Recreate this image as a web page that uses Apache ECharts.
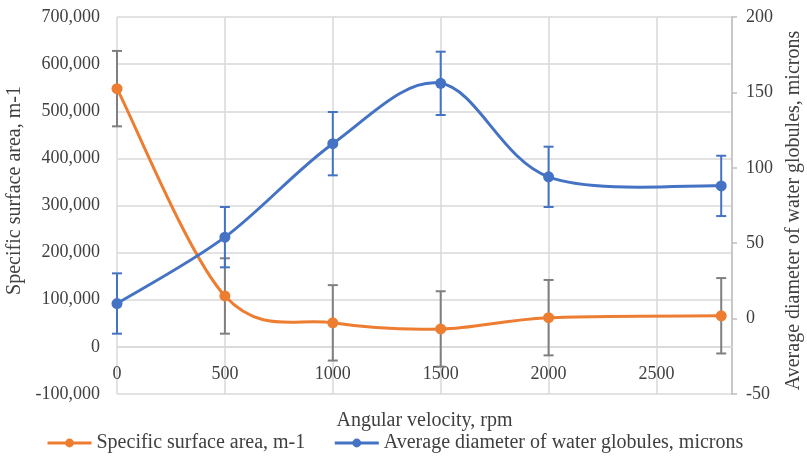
<!DOCTYPE html>
<html>
<head>
<meta charset="utf-8">
<script src="https://cdn.jsdelivr.net/npm/echarts@6/dist/echarts.min.js"></script>
<style>
  html, body { margin: 0; padding: 0; background: #fff; }
  #chart { width: 807px; height: 456px; }
</style>
</head>
<body>
<div id="chart"></div>
<script>
// Angular velocity (rpm)
const rpm = [0, 500, 1000, 1500, 2000, 2800];
// Specific surface area, m-1 (left axis) and its error half-width
const surfaceArea = [548000, 108000, 51000, 38000, 62000, 66000];
const surfaceErr = [80000, 80000, 80000, 80000, 80000, 80000];
// Average diameter of water globules, microns (right axis) and its error half-width
const diameter = [10, 54, 116, 156, 94, 88];
const diameterErr = [20, 20, 21, 21, 20, 20];
// Axis tick settings
const leftTicks = { min: -100000, max: 700000, step: 100000 };
const rightTicks = { min: -50, max: 200, step: 50 };
const xTicks = { min: 0, max: 2850, step: 500 };

const SURFACE_NAME = 'Specific surface area, m-1';
const DIAMETER_NAME = 'Average diameter of water globules, microns';

const FONT = 'Liberation Serif';
const TEXT = '#404040';
const GRID = '#d9d9d9';
const ORANGE = '#ED7D31';
const BLUE = '#4472C4';
const ERR_GREY = '#7f7f7f';

// Plot rectangle
const PLOT = { left: 117, right: 75, top: 17, bottom: 62, height: 456 - 17 - 62 };
// The horizontal axis crosses the left axis at zero: shift it up from the bottom edge
const zeroShift = PLOT.height * (0 - leftTicks.min) / (leftTicks.max - leftTicks.min);

// Vertical error bars with short caps
function errorBars(color) {
  return function (params, api) {
    const x = api.value(0), y = api.value(1), e = api.value(2);
    const hi = api.coord([x, y + e]);
    const lo = api.coord([x, y - e]);
    const w = 5;
    const st = { stroke: color, lineWidth: 2 };
    return {
      type: 'group',
      children: [
        { type: 'line', shape: { x1: hi[0], y1: hi[1], x2: lo[0], y2: lo[1] }, style: st },
        { type: 'line', shape: { x1: hi[0] - w, y1: hi[1], x2: hi[0] + w, y2: hi[1] }, style: st },
        { type: 'line', shape: { x1: lo[0] - w, y1: lo[1], x2: lo[0] + w, y2: lo[1] }, style: st }
      ]
    };
  };
}

// Smoothed curve through the points (Catmull-Rom style cubic Bezier segments)
function smoothCurve(xs, ys, color) {
  return function (params, api) {
    if (params.dataIndex !== 0) return null;
    const pts = xs.map((x, i) => api.coord([x, ys[i]]));
    const n = pts.length;
    let d = 'M' + pts[0][0] + ',' + pts[0][1];
    for (let i = 0; i < n - 1; i++) {
      const p0 = pts[Math.max(i - 1, 0)];
      const p1 = pts[i];
      const p2 = pts[i + 1];
      const p3 = pts[Math.min(i + 2, n - 1)];
      const c1 = [p1[0] + (p2[0] - p0[0]) / 6, p1[1] + (p2[1] - p0[1]) / 6];
      const c2 = [p2[0] - (p3[0] - p1[0]) / 6, p2[1] - (p3[1] - p1[1]) / 6];
      d += ' C' + c1[0] + ',' + c1[1] + ' ' + c2[0] + ',' + c2[1] + ' ' + p2[0] + ',' + p2[1];
    }
    return {
      type: 'path',
      shape: { pathData: d },
      style: { stroke: color, lineWidth: 3, fill: 'none', lineJoin: 'round', lineCap: 'round' }
    };
  };
}

const chart = echarts.init(document.getElementById('chart'), null, { renderer: 'canvas' });
chart.setOption({
  animation: false,
  textStyle: { fontFamily: FONT, color: TEXT },
  grid: { left: PLOT.left, right: PLOT.right, top: PLOT.top, bottom: PLOT.bottom, containLabel: false, outerBoundsMode: 'none' },
  legend: {
    top: 428,
    left: 41,
    itemWidth: 44,
    itemHeight: 11,
    itemGap: 28,
    textStyle: { fontFamily: FONT, fontSize: 20, color: TEXT },
    data: [
      { name: SURFACE_NAME, lineStyle: { color: ORANGE, width: 3, opacity: 1 }, itemStyle: { color: ORANGE } },
      { name: DIAMETER_NAME, lineStyle: { color: BLUE, width: 3, opacity: 1 }, itemStyle: { color: BLUE } }
    ]
  },
  xAxis: {
    type: 'value',
    position: 'bottom',
    offset: -zeroShift,
    min: xTicks.min,
    max: xTicks.max,
    interval: xTicks.step,
    name: 'Angular velocity, rpm',
    nameLocation: 'middle',
    nameGap: 64,
    nameMoveOverlap: false,
    nameTextStyle: { fontFamily: FONT, fontSize: 20, color: TEXT },
    axisLine: { show: true, onZero: false, lineStyle: { color: GRID, width: 1.5 } },
    axisTick: { show: false },
    axisLabel: { fontFamily: FONT, fontSize: 18, color: TEXT, margin: 18, showMaxLabel: false, formatter: v => String(v) },
    splitLine: { show: true, lineStyle: { color: GRID, width: 1.5 } }
  },
  yAxis: [
    {
      type: 'value',
      position: 'left',
      min: leftTicks.min,
      max: leftTicks.max,
      interval: leftTicks.step,
      name: SURFACE_NAME,
      nameLocation: 'middle',
      nameGap: 81,
      nameTextStyle: { fontFamily: FONT, fontSize: 20, color: TEXT, padding: [0, 0, 0, 30] },
      axisLine: { show: false, onZero: false },
      axisTick: { show: false },
      axisLabel: {
        fontFamily: FONT, fontSize: 18, color: TEXT, margin: 17,
        formatter: v => v.toLocaleString('en-US')
      },
      splitLine: { show: true, lineStyle: { color: GRID, width: 1.5 } }
    },
    {
      type: 'value',
      position: 'right',
      min: rightTicks.min,
      max: rightTicks.max,
      interval: rightTicks.step,
      name: DIAMETER_NAME,
      nameLocation: 'middle',
      nameGap: 46,
      nameTextStyle: { fontFamily: FONT, fontSize: 20, color: TEXT, padding: [0, 10, 0, 0] },
      axisLine: { show: true, onZero: false, lineStyle: { color: '#bfbfbf', width: 1.5 } },
      axisTick: { show: true, length: 5, lineStyle: { color: '#bfbfbf', width: 1.5 } },
      axisLabel: { fontFamily: FONT, fontSize: 18, color: TEXT, margin: 14 },
      splitLine: { show: false }
    }
  ],
  series: [
    {
      type: 'custom',
      name: 'surfaceErr',
      yAxisIndex: 0,
      z: 1,
      silent: true,
      renderItem: errorBars(ERR_GREY),
      data: rpm.map((x, i) => [x, surfaceArea[i], surfaceErr[i]])
    },
    {
      type: 'custom',
      name: 'diameterErr',
      yAxisIndex: 1,
      z: 1,
      silent: true,
      renderItem: errorBars(BLUE),
      data: rpm.map((x, i) => [x, diameter[i], diameterErr[i]])
    },
    {
      type: 'custom',
      name: 'surfaceCurve',
      yAxisIndex: 0,
      z: 2,
      silent: true,
      renderItem: smoothCurve(rpm, surfaceArea, ORANGE),
      data: rpm.map((x, i) => [x, surfaceArea[i]])
    },
    {
      type: 'custom',
      name: 'diameterCurve',
      yAxisIndex: 1,
      z: 2,
      silent: true,
      renderItem: smoothCurve(rpm, diameter, BLUE),
      data: rpm.map((x, i) => [x, diameter[i]])
    },
    {
      type: 'line',
      name: SURFACE_NAME,
      yAxisIndex: 0,
      z: 3,
      symbol: 'circle',
      symbolSize: 11,
      color: ORANGE,
      lineStyle: { color: ORANGE, width: 3, opacity: 0 },
      itemStyle: { color: ORANGE },
      data: rpm.map((x, i) => [x, surfaceArea[i]])
    },
    {
      type: 'line',
      name: DIAMETER_NAME,
      yAxisIndex: 1,
      z: 3,
      symbol: 'circle',
      symbolSize: 11,
      color: BLUE,
      lineStyle: { color: BLUE, width: 3, opacity: 0 },
      itemStyle: { color: BLUE },
      data: rpm.map((x, i) => [x, diameter[i]])
    }
  ]
});
</script>
</body>
</html>
